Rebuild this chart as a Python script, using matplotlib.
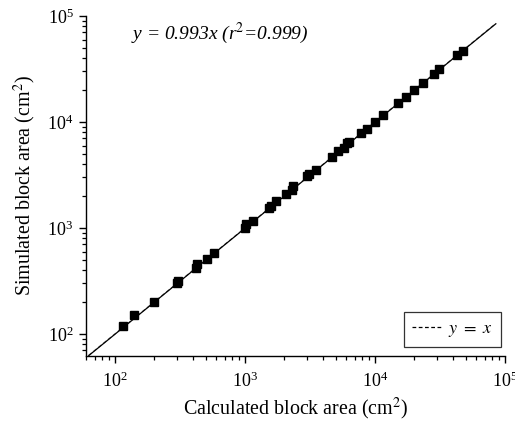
import matplotlib
matplotlib.use("Agg")
import matplotlib.pyplot as plt
import numpy as np

plt.rcParams['font.family'] = ['Liberation Serif', 'DejaVu Serif']
plt.rcParams['mathtext.fontset'] = 'stix'

calc_area = [115, 141, 200, 300, 308, 420, 425, 513, 577, 1000, 1020, 1160,
             1530, 1580, 1730, 2066, 2285, 2330, 3015, 3100, 3516, 4643,
             5224, 5810, 6100, 6310, 7800, 8630, 10000, 11590, 15110, 17300,
             20050, 23560, 28460, 31270, 42500, 47300]
sim_area = [118, 152, 200, 303, 318, 420, 455, 515, 580, 990, 1080, 1170,
            1540, 1600, 1780, 2080, 2300, 2500, 3080, 3250, 3550, 4700,
            5300, 5700, 6350, 6500, 7900, 8600, 10100, 11600, 15200, 17200,
            20000, 23500, 28200, 31500, 42500, 46500]
slope = 0.993
line_range = [63, 85000]

fig = plt.figure(figsize=(5.15, 4.23), dpi=100)
ax = fig.add_axes([0.167, 0.1584, 0.8136, 0.8038])

xl = np.array(line_range, dtype=float)
ax.plot(xl, xl, linestyle=(0, (3, 2)), color='0.45', lw=0.9, label='$y\\ =\\ x$')
ax.plot(xl, slope * xl, color='black', lw=0.9)
ax.plot(calc_area, sim_area, 's', color='black', ms=5.6, linestyle='none')

ax.set_xscale('log')
ax.set_yscale('log')
ax.set_xlim(60, 1e5)
ax.set_ylim(62, 1e5)

for s in ['top', 'right']:
    ax.spines[s].set_visible(False)
for s in ['left', 'bottom']:
    ax.spines[s].set_linewidth(1.0)

ax.tick_params(which='major', direction='out', length=5, width=1.0, labelsize=13)
ax.tick_params(axis='x', which='major', pad=6)
ax.tick_params(axis='y', which='major', pad=4)
ax.tick_params(which='minor', direction='out', length=3, width=0.9)

ax.set_xlabel('Calculated block area (cm$^2$)', fontsize=14.4, labelpad=4)
ax.set_ylabel('Simulated block area (cm$^2$)', fontsize=14.4, labelpad=7)

ax.text(0.107, 0.95, 'y = 0.993x (r$^{2}$=0.999)', transform=ax.transAxes,
        fontsize=14, fontstyle='italic', va='center', ha='left')

leg = ax.legend(loc='lower right', bbox_to_anchor=(0.99, 0.026), borderaxespad=0,
                fontsize=13, frameon=True, fancybox=False, edgecolor='black',
                handlelength=1.6, handletextpad=0.4, borderpad=0.45)
leg.get_frame().set_linewidth(0.9)
leg.legend_handles[0].set_color('black')

fig.savefig('out.png', dpi=100)
